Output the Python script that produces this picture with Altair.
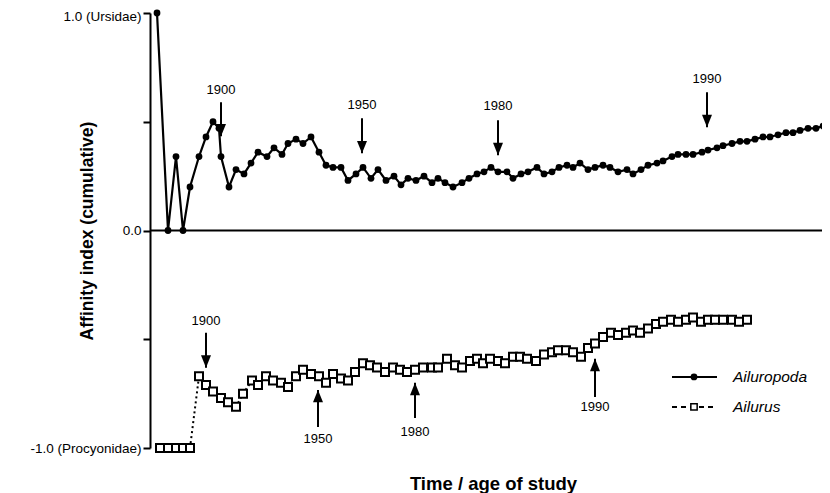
import altair as alt
import pandas as pd

FONT = "Liberation Sans"

# ---- Ailuropoda (giant panda): time position of study, cumulative affinity index
ailuropoda_time = [7, 18, 26, 33, 40, 49, 56, 63, 69, 71, 79, 86, 94, 101, 108, 117, 124, 132, 138, 146,
                   153, 161, 169, 176, 183, 191, 198, 206, 213, 221, 228, 236, 244, 251, 258, 266, 274, 282, 288, 295,
                   303, 312, 319, 327, 334, 341, 348, 357, 363, 371, 378, 387, 394, 402, 409, 417, 423, 430, 438, 445,
                   453, 460, 468, 477, 483, 491, 498, 507, 513, 522, 528, 536, 543, 552, 558, 567, 573, 582, 590, 597,
                   605, 613, 620, 628, 636, 643, 650, 658, 666, 673, 679]
ailuropoda_index = [1.00, 0.00, 0.34, 0.00, 0.20, 0.34, 0.43, 0.50, 0.47, 0.34,
                    0.20, 0.28, 0.26, 0.31, 0.36, 0.34, 0.38, 0.35, 0.40, 0.42,
                    0.40, 0.43, 0.36, 0.30, 0.29, 0.29, 0.23, 0.26, 0.29, 0.24,
                    0.28, 0.23, 0.25, 0.21, 0.24, 0.23, 0.25, 0.22, 0.24, 0.22,
                    0.20, 0.22, 0.24, 0.26, 0.27, 0.29, 0.27, 0.27, 0.24, 0.26,
                    0.27, 0.29, 0.26, 0.27, 0.29, 0.30, 0.29, 0.31, 0.28, 0.29,
                    0.30, 0.29, 0.27, 0.28, 0.26, 0.28, 0.30, 0.31, 0.32, 0.34,
                    0.35, 0.35, 0.35, 0.36, 0.37, 0.38, 0.39, 0.40, 0.41, 0.41,
                    0.42, 0.43, 0.43, 0.44, 0.45, 0.45, 0.46, 0.47, 0.47, 0.48,
                    0.49]

# ---- Ailurus (red panda)
ailurus_time = [10, 18, 26, 33, 40, 49, 56, 63, 71, 78, 86, 93, 102, 108, 116, 123, 131, 138, 146, 153,
                161, 169, 176, 183, 191, 198, 205, 213, 220, 227, 235, 243, 250, 257, 265, 273, 282, 288, 297, 305,
                312, 320, 327, 333, 340, 348, 355, 363, 370, 377, 386, 394, 402, 408, 416, 423, 431, 438, 445, 453,
                461, 468, 476, 483, 490, 498, 506, 513, 521, 528, 536, 543, 551, 558, 565, 573, 582, 589, 597]
ailurus_index = [-1.00, -1.00, -1.00, -1.00, -1.00, -0.67, -0.71, -0.74, -0.77, -0.79,
                 -0.81, -0.75, -0.69, -0.71, -0.67, -0.69, -0.70, -0.72, -0.67, -0.64,
                 -0.66, -0.67, -0.70, -0.66, -0.68, -0.69, -0.65, -0.61, -0.62, -0.63,
                 -0.65, -0.63, -0.64, -0.65, -0.64, -0.63, -0.63, -0.63, -0.59, -0.62,
                 -0.63, -0.60, -0.59, -0.61, -0.59, -0.60, -0.61, -0.58, -0.58, -0.59,
                 -0.60, -0.57, -0.56, -0.55, -0.55, -0.56, -0.58, -0.54, -0.52, -0.49,
                 -0.47, -0.48, -0.47, -0.46, -0.47, -0.45, -0.43, -0.42, -0.41, -0.42,
                 -0.41, -0.40, -0.42, -0.41, -0.41, -0.41, -0.41, -0.42, -0.41]

# ---- year annotations (arrows)
ann_label = ["1900", "1950", "1980", "1990", "1900", "1950", "1980", "1990"]
ann_time = [71, 212, 348, 557, 56, 168, 265, 445]
ann_text_y = [0.645, 0.576, 0.571, 0.696, -0.415, -0.959, -0.926, -0.811]
ann_tail_y = [0.59, 0.516, 0.507, 0.636, -0.47, -0.903, -0.862, -0.765]
ann_tip_y = [0.433, 0.355, 0.346, 0.475, -0.631, -0.733, -0.70, -0.59]
ann_dir = ["down", "down", "down", "down", "down", "up", "up", "up"]

# ---- legend entries
legend_names = ["Ailuropoda", "Ailurus"]
legend_y = [-0.673, -0.811]
legend_x = [522, 567, 544, 583]  # line start, line end, symbol, text

top = pd.DataFrame({"t": ailuropoda_time, "v": ailuropoda_index})
bot = pd.DataFrame({"t": ailurus_time, "v": ailurus_index})
ann = pd.DataFrame({"t": ann_time, "label": ann_label, "ty": ann_text_y,
                    "tail": ann_tail_y, "tip": ann_tip_y, "dir": ann_dir})
leg = pd.DataFrame({"name": legend_names, "v": legend_y,
                    "x1": legend_x[0], "x2": legend_x[1], "xs": legend_x[2], "xt": legend_x[3]})

YTITLE = "Affinity index (cumulative)"
XTITLE = "Time / age of study"
xscale = alt.Scale(domain=[0, 672], nice=False, zero=False)
yscale = alt.Scale(domain=[-1, 1], nice=False, zero=False)
xaxis = alt.Axis(domain=False, ticks=False, labels=False, grid=False, title=XTITLE,
                 titleFont=FONT, titleFontSize=18.5, titleFontWeight="bold", titleColor="black",
                 titleBaseline="middle", titleY=35, titleX=343)
yaxis = alt.Axis(values=[-1, -0.5, 0, 0.5, 1], grid=False,
                 labelExpr="datum.value == 1 ? '1.0 (Ursidae)' : datum.value == 0 ? '0.0' : datum.value == -1 ? '-1.0 (Procyonidae)' : ''",
                 labelOffset={"condition": {"test": "datum.value == 1", "value": 3}, "value": 0},
                 domainColor="black", domainWidth=2, tickColor="black", tickWidth=2, tickSize=7,
                 labelFont=FONT, labelFontSize=13.5, labelColor="black", labelPadding=2,
                 title=YTITLE, titleFont=FONT, titleFontSize=17.5, titleFontWeight="bold",
                 titleColor="black", titleBaseline="middle", titleX=-63, titleY=217.5)


def X(f):
    return alt.X(f, type="quantitative", scale=xscale, axis=xaxis, title=XTITLE)


def Y(f):
    return alt.Y(f, type="quantitative", scale=yscale, axis=yaxis, title=YTITLE)


zero = alt.Chart(pd.DataFrame({"v": [0.0]})).mark_rule(color="black", strokeWidth=2).encode(y=Y("v"))

top_line = alt.Chart(top).mark_line(color="black", strokeWidth=2.2).encode(x=X("t"), y=Y("v"))
top_pts = alt.Chart(top).mark_circle(color="black", size=46, opacity=1).encode(x=X("t"), y=Y("v"))

bot_line = alt.Chart(bot).mark_line(color="black", strokeWidth=2, strokeDash=[2, 3]).encode(x=X("t"), y=Y("v"))
bot_pts = alt.Chart(bot).mark_point(shape="square", filled=True, fill="white", stroke="black",
                                    strokeWidth=2, size=64, opacity=1).encode(x=X("t"), y=Y("v"))

shaft = alt.Chart(ann).mark_rule(color="black", strokeWidth=2).encode(x=X("t"), y=Y("tail"), y2="tip")
head = alt.Chart(ann).mark_point(filled=True, color="black", size=64, opacity=1, strokeWidth=0).encode(
    x=X("t"), y=Y("tip"),
    shape=alt.Shape("dir:N", legend=None,
                    scale=alt.Scale(domain=["down", "up"],
                                    range=["M-1.25,-3.1L1.25,-3.1L0,0Z", "M-1.25,3.1L1.25,3.1L0,0Z"])))
ann_txt = alt.Chart(ann).mark_text(font=FONT, fontSize=13, color="black", baseline="middle", align="center").encode(
    x=X("t"), y=Y("ty"), text="label:N")

leg_solid = alt.Chart(leg).transform_filter("datum.name == 'Ailuropoda'").mark_rule(
    color="black", strokeWidth=2).encode(x=X("x1"), x2="x2", y=Y("v"))
leg_dash = alt.Chart(leg).transform_filter("datum.name == 'Ailurus'").mark_rule(
    color="black", strokeWidth=2, strokeDash=[5, 4]).encode(x=X("x1"), x2="x2", y=Y("v"))
leg_circ = alt.Chart(leg).transform_filter("datum.name == 'Ailuropoda'").mark_circle(
    color="black", size=46, opacity=1).encode(x=X("xs"), y=Y("v"))
leg_sq = alt.Chart(leg).transform_filter("datum.name == 'Ailurus'").mark_point(
    shape="square", filled=True, fill="white", stroke="black", strokeWidth=1.5, size=40, opacity=1).encode(
    x=X("xs"), y=Y("v"))
leg_txt = alt.Chart(leg).mark_text(font=FONT, fontSize=15.5, fontStyle="italic", color="black",
                                   align="left", baseline="middle").encode(x=X("xt"), y=Y("v"), text="name:N")

chart = alt.layer(zero, top_line, top_pts, bot_line, bot_pts, shaft, head, ann_txt,
                  leg_solid, leg_dash, leg_circ, leg_sq, leg_txt).properties(
    width=672, height=435,
    autosize=alt.AutoSizeParams(type="none"),
    padding={"left": 142, "top": 5, "right": 0, "bottom": 45},
    background="white",
).configure_view(stroke=None)

chart.save("out.html", embed_options={"renderer": "svg", "actions": False})
